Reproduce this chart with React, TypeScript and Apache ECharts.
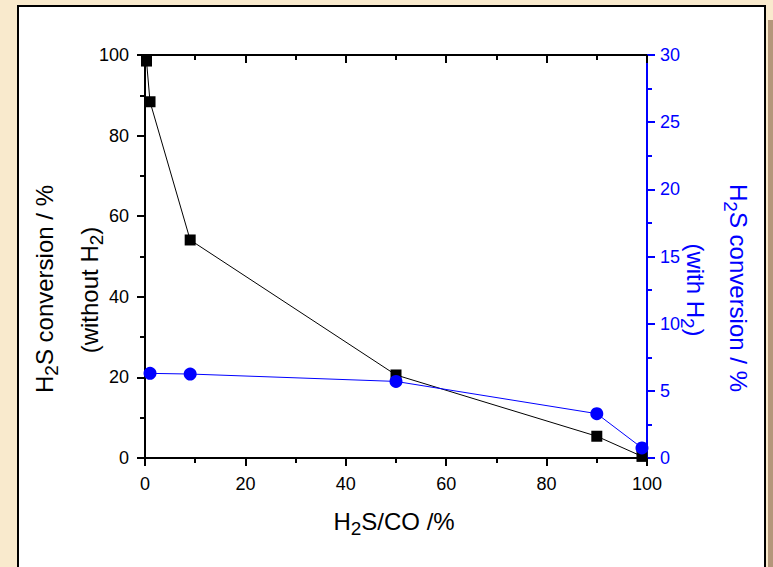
import React, { useEffect, useRef } from 'react';
import * as echarts from 'echarts';

const FONT = '"Liberation Sans", Arial, Helvetica, sans-serif';
const BLUE = '#0000ff';

// H2S/CO ratio (%) and conversions
const ratioWithoutH2 = [0.3, 1, 9, 50, 90, 99];
const convWithoutH2 = [98.5, 88.4, 54.1, 20.6, 5.4, 0.4];
const ratioWithH2 = [1, 9, 50, 90, 99];
const convWithH2 = [6.3, 6.25, 5.7, 3.3, 0.75];

const xTitle = ['H', '2', 'S/CO /%'];
const leftTitle = ['H', '2', 'S conversion / %'];
const leftSubTitle = ['(without H', '2', ')'];
const rightTitle = ['H', '2', 'S conversion / %'];
const rightSubTitle = ['(with H', '2', ')'];

function richText(parts: string[]) {
  return `{a|${parts[0]}}{s|${parts[1]}}{a|${parts[2]}}`;
}

function titleEl(parts: string[], x: number, y: number, rotation: number, color: string) {
  return {
    type: 'text',
    x,
    y,
    rotation,
    z: 100,
    style: {
      text: richText(parts),
      x: 0,
      y: 0,
      align: 'center',
      textAlign: 'center',
      verticalAlign: 'middle',
      textVerticalAlign: 'middle',
      fill: color,
      rich: {
        a: { fontSize: 24, fontFamily: FONT, lineHeight: 34, verticalAlign: 'middle', fill: color },
        s: { fontSize: 19, fontFamily: FONT, lineHeight: 21, verticalAlign: 'bottom', fill: color },
      },
    },
  };
}

export default function App() {
  const ref = useRef<HTMLDivElement>(null);
  useEffect(() => {
    if (!ref.current) return;
    const chart = echarts.init(ref.current, undefined, { renderer: 'svg' });
    const tickLabel = { fontSize: 18, fontFamily: FONT, color: '#000' };
    const blackLine = { color: '#000', width: 2 };
    const blueLine = { color: BLUE, width: 2 };
    chart.setOption({
      animation: false,
      backgroundColor: '#f9eacd',
      grid: { left: 145, right: 126, top: 55, bottom: 109 },
      graphic: [
        { type: 'rect', z: -100, shape: { x: 768, y: 20, width: 5, height: 547 }, style: { fill: '#b4967a' } },
        { type: 'rect', z: -99, shape: { x: 18, y: 6, width: 747, height: 580 }, style: { fill: '#ffffff', stroke: '#000', lineWidth: 2 } },
        titleEl(xTitle, 394, 521, 0, '#000'),
        titleEl(leftTitle, 44, 289, Math.PI / 2, '#000'),
        titleEl(leftSubTitle, 89, 290, Math.PI / 2, '#000'),
        titleEl(rightTitle, 738, 288, -Math.PI / 2, BLUE),
        titleEl(rightSubTitle, 695, 290, -Math.PI / 2, BLUE),
      ],
      xAxis: [
        {
          type: 'value', position: 'bottom', min: 0, max: 100, interval: 20,
          axisLine: { show: true, onZero: false, lineStyle: blackLine },
          axisTick: { show: true, inside: false, length: 8, lineStyle: blackLine },
          minorTick: { show: true, splitNumber: 2, length: 5, lineStyle: blackLine },
          axisLabel: { ...tickLabel, margin: 17 },
          splitLine: { show: false },
        },
        {
          type: 'value', position: 'top', min: 0, max: 100, interval: 20,
          axisLine: { show: true, onZero: false, lineStyle: blackLine },
          axisTick: { show: true, inside: true, length: 8, lineStyle: blackLine },
          minorTick: { show: true, splitNumber: 2, length: 5, lineStyle: blackLine },
          axisLabel: { show: false },
          splitLine: { show: false },
        },
      ],
      yAxis: [
        {
          type: 'value', position: 'left', min: 0, max: 100, interval: 20,
          axisLine: { show: true, onZero: false, lineStyle: blackLine },
          axisTick: { show: true, inside: false, length: 8, lineStyle: blackLine },
          minorTick: { show: true, splitNumber: 2, length: 5, lineStyle: blackLine },
          axisLabel: { ...tickLabel, margin: 16 },
          splitLine: { show: false },
        },
        {
          type: 'value', position: 'right', min: 0, max: 30, interval: 5,
          axisLine: { show: true, onZero: false, lineStyle: blueLine },
          axisTick: { show: true, inside: false, length: 8, lineStyle: blueLine },
          minorTick: { show: true, splitNumber: 2, length: 5, lineStyle: blueLine },
          axisLabel: { ...tickLabel, color: BLUE, margin: 13 },
          splitLine: { show: false },
        },
      ],
      series: [
        {
          type: 'line', xAxisIndex: 0, yAxisIndex: 0,
          data: ratioWithoutH2.map((x, i) => [x, convWithoutH2[i]]),
          symbol: 'rect', symbolSize: 11, showAllSymbol: true, clip: false,
          lineStyle: { color: '#000', width: 1 },
          itemStyle: { color: '#000' },
          z: 3,
        },
        {
          type: 'line', xAxisIndex: 0, yAxisIndex: 1,
          data: ratioWithH2.map((x, i) => [x, convWithH2[i]]),
          symbol: 'circle', symbolSize: 13, showAllSymbol: true, clip: false,
          lineStyle: { color: BLUE, width: 1 },
          itemStyle: { color: BLUE },
          z: 4,
        },
      ],
    });
    return () => chart.dispose();
  }, []);
  return <div ref={ref} style={{ position: 'absolute', left: 0, top: 0, width: 773, height: 567 }} />;
}
